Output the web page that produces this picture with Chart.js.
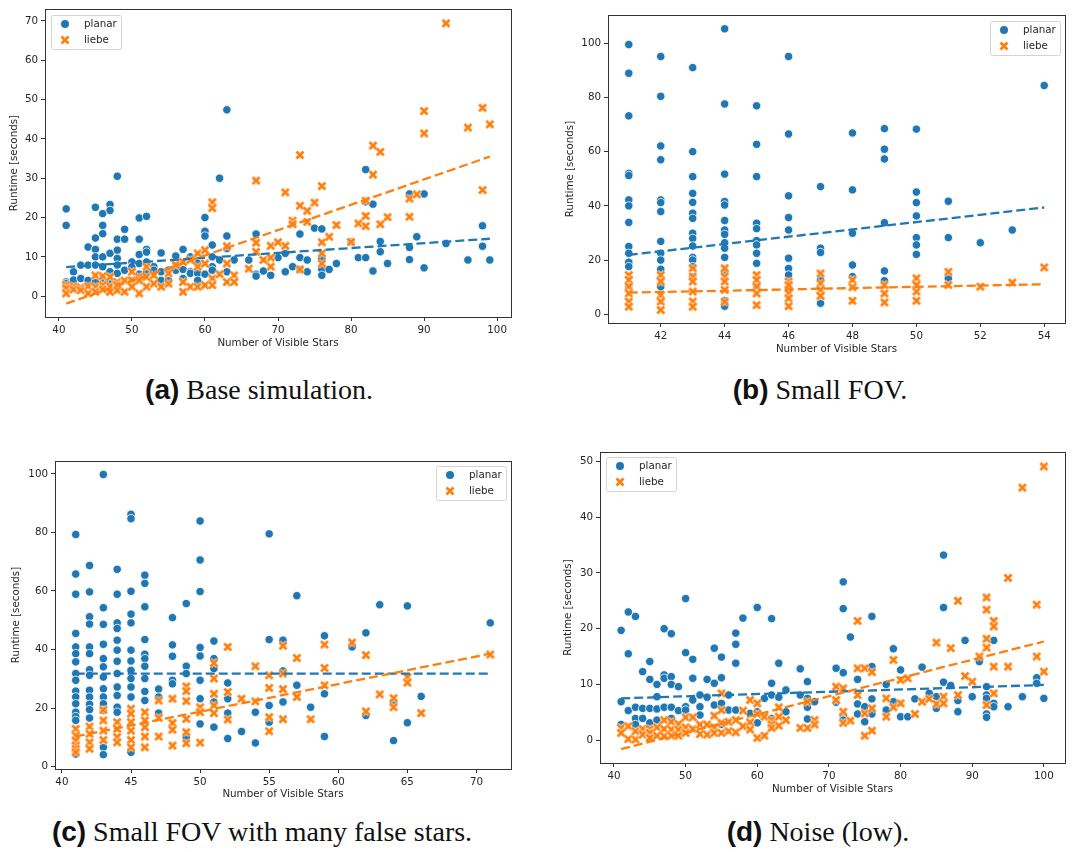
<!DOCTYPE html>
<html>
<head>
<meta charset="utf-8">
<script src="https://cdn.jsdelivr.net/npm/chart.js@4.4.1/dist/chart.umd.min.js"></script>
<style>
    body { margin: 0; background: #fff; width: 1072px; height: 852px; position: relative; overflow: hidden; }
    canvas { position: absolute; }
    .cap { position: absolute; font-family: 'Liberation Serif'; font-size: 28px; color: #111; white-space: nowrap; transform: translate(-50%, -50%); }
    .cap b { font-family: 'Liberation Sans'; }
</style>
</head>
<body>
<canvas id="ca" width="520" height="354" style="left:0;top:0"></canvas>
<canvas id="cb" width="516" height="360" style="left:556px;top:0"></canvas>
<canvas id="cc" width="520" height="365" style="left:0;top:440px"></canvas>
<canvas id="cd" width="518" height="360" style="left:554px;top:440px"></canvas>

<div class="cap" style="left:259px;top:390px"><b>(a)</b> Base simulation.</div>
<div class="cap" style="left:820px;top:390px"><b>(b)</b> Small FOV.</div>
<div class="cap" style="left:262px;top:832px"><b>(c)</b> Small FOV with many false stars.</div>
<div class="cap" style="left:818px;top:832px"><b>(d)</b> Noise (low).</div>

<script>
const seriesNames = ['planar', 'liebe'];
const xTitle = 'Number of Visible Stars';
const yTitle = 'Runtime [seconds]';

// each row: [x, y1, y2, ...]
// (a) base simulation
const aPlanar = [
    [41, 22.2, 18.0, 3.6, 3.2], [42, 6.2, 4.1], [43, 7.9, 4.5], [44, 12.5, 7.9, 4.0],
    [45, 22.6, 14.8, 11.9, 10.0, 7.9, 3.6], [46, 21.0, 18.0, 15.9, 10.0, 7.5, 4.5],
    [47, 23.3, 21.8, 10.9, 6.2, 3.6], [48, 30.5, 14.5, 11.7, 9.6, 7.9, 5.8], [49, 17.0, 14.5, 6.6],
    [50, 8.7, 7.5, 4.0], [51, 19.9, 14.5, 10.6, 8.3, 5.6], [52, 20.3, 11.9, 11.2, 8.7, 5.9],
    [53, 7.5, 6.6], [54, 11.0, 6.2, 4.0], [55, 6.6, 4.0], [56, 10.2, 6.6], [57, 11.9, 6.8, 4.5],
    [58, 10.0, 6.2, 5.8], [59, 8.3, 5.8, 4.0], [60, 20.0, 16.5, 15.3, 5.6], [61, 13.0, 10.0, 7.5, 6.6],
    [62, 30.0, 9.2], [63, 47.4, 15.3, 12.1, 6.2], [64, 9.2], [66, 9.2], [67, 15.8, 5.6, 5.1],
    [68, 6.4], [69, 5.3], [70, 9.8], [71, 10.9, 6.2], [72, 7.5], [73, 15.8, 9.8, 6.8], [74, 9.2, 6.2],
    [75, 17.3], [76, 17.1, 9.6, 6.8, 5.3], [77, 6.8], [78, 8.3], [80, 13.8], [81, 9.8],
    [82, 32.2, 24.0, 9.8], [83, 23.4, 6.4], [84, 13.9, 11.3], [85, 8.3], [88, 26.0, 12.4, 9.3],
    [89, 15.1], [90, 26.0, 7.2], [93, 13.4], [96, 9.2], [98, 17.9, 12.7], [99, 9.2]
];
const aLiebe = [
    [41, 2.8, 2.0, 0.7], [42, 2.5, 1.7], [43, 2.2, 1.5], [44, 2.5, 0.7], [45, 5.3, 2.4, 1.1],
    [46, 5.1, 2.8, 1.7], [47, 4.9, 2.5, 1.1], [48, 3.6, 2.8, 1.5], [49, 4.0, 1.1], [50, 6.2, 4.0, 2.4],
    [51, 4.9, 4.0, 0.7], [52, 7.5, 4.9, 2.4], [53, 5.3, 3.2], [54, 2.4], [55, 5.8, 3.2], [56, 8.3, 7.9],
    [57, 8.7, 3.6, 1.1], [58, 9.2, 2.4], [59, 10.9, 7.5, 2.4], [60, 11.7, 8.3, 2.8],
    [61, 23.9, 22.4, 4.5, 2.8], [62, 5.6], [63, 12.7, 8.3, 3.6], [64, 5.3, 3.6], [66, 7.0],
    [67, 29.4, 13.6, 11.3], [68, 9.2], [69, 12.8, 9.8, 7.5], [70, 13.7], [71, 26.4, 12.8],
    [72, 19.2, 18.3], [73, 35.9, 23.0, 6.8], [74, 21.7, 18.9], [75, 23.8], [76, 28.0, 13.7, 10.9, 8.3],
    [77, 15.1], [78, 18.1], [80, 13.8], [81, 18.5], [82, 24.3, 20.4, 17.8], [83, 38.3, 30.9],
    [84, 36.7, 18.3], [85, 20.1], [88, 24.8, 20.2], [89, 25.9], [90, 47.1, 41.4], [93, 69.4],
    [96, 42.9], [98, 47.9, 27.0], [99, 43.7]
];
const aPlanarFit = [[41, 7.4], [99, 14.6]];
const aLiebeFit = [[41, -1.9], [99, 35.5]];
const aXTicks = [40, 50, 60, 70, 80, 90, 100];
const aYTicks = [0, 10, 20, 30, 40, 50, 60, 70];

// (b) small FOV
const bPlanar = [
    [41, 99.5, 88.9, 73.2, 52.0, 51.2, 42.2, 40.0, 33.9, 25.0, 22.5, 19.2, 17.6, 10.2],
    [42, 95.1, 80.4, 62.1, 57.0, 42.2, 41.2, 37.9, 26.9, 22.5, 20.0, 16.6, 13.3, 10.2],
    [43, 91.0, 60.0, 50.8, 44.6, 41.3, 37.3, 35.4, 29.9, 28.0, 25.2, 21.0, 20.0, 17.6, 13.9],
    [44, 105.3, 77.6, 51.7, 41.6, 40.3, 34.6, 31.1, 29.5, 26.4, 24.4, 21.0, 15.7, 5.0, 3.0],
    [45, 76.9, 62.7, 50.8, 33.6, 31.6, 27.2, 25.6, 22.5, 18.8, 10.5],
    [46, 95.1, 66.5, 43.7, 35.7, 31.1, 20.7, 16.9, 14.5],
    [47, 47.1, 24.4, 22.8, 12.7, 4.1],
    [48, 66.9, 45.9, 29.9, 18.2, 13.9],
    [49, 68.5, 60.9, 57.3, 33.8, 16.0, 12.4],
    [50, 68.3, 45.1, 41.2, 36.3, 28.3, 25.6, 22.1],
    [51, 41.7, 28.3, 13.3], [52, 26.4], [53, 31.1], [54, 84.4]
];
const bLiebe = [
    [41, 14.5, 12.7, 10.2, 7.7, 4.7, 2.8], [42, 14.5, 12.1, 7.1, 4.7, 1.6],
    [43, 17.0, 13.9, 12.1, 8.4, 4.7, 2.8], [44, 17.0, 13.9, 12.1, 9.0, 4.7],
    [45, 14.5, 12.7, 10.2, 7.7, 3.4], [46, 12.1, 10.8, 7.7, 5.9, 3.0],
    [47, 15.1, 11.4, 9.0, 6.8], [48, 12.7, 10.0, 5.0], [49, 10.8, 7.7, 4.4],
    [50, 13.3, 10.8, 8.4, 5.0], [51, 15.7, 10.8], [52, 10.2], [53, 11.7], [54, 17.3]
];
const bPlanarFit = [[41, 21.9], [54, 39.4]];
const bLiebeFit = [[41, 8.0], [54, 11.1]];
const bXTicks = [42, 44, 46, 48, 50, 52, 54];
const bYTicks = [0, 20, 40, 60, 80, 100];

// (c) small FOV with many false stars
const cPlanar = [
    [41, 79.3, 65.8, 58.9, 45.5, 40.9, 38.6, 35.8, 31.8, 29.5, 25.8, 23.8, 21.5, 18.6, 17.1, 15.8, 4.3],
    [42, 68.7, 59.7, 51.2, 48.7, 40.9, 38.6, 33.1, 31.2, 26.1, 23.8, 21.3, 19.5, 16.6],
    [43, 99.8, 54.3, 48.6, 41.8, 36.9, 34.1, 30.6, 26.6, 23.8, 21.5, 19.2, 6.6, 4.1],
    [44, 67.4, 58.9, 49.1, 47.2, 43.2, 39.8, 36.0, 31.8, 27.2, 24.3, 20.3, 18.6],
    [45, 86.2, 84.7, 59.9, 52.1, 49.1, 39.8, 36.1, 32.9, 30.1, 27.2, 23.8, 4.9],
    [46, 65.4, 62.6, 54.6, 43.4, 38.4, 36.9, 34.3, 30.1, 25.7, 22.6],
    [47, 26.5, 23.8, 18.3], [48, 50.9, 41.6, 37.7, 29.5, 28.3], [49, 55.7, 34.3, 31.8, 10.1],
    [50, 83.9, 70.6, 59.8, 40.7, 37.8, 29.5, 23.2, 14.6], [51, 42.9, 36.9, 33.5, 22.1, 13.5],
    [52, 28.6, 23.2, 18.3, 9.6], [53, 12.0], [54, 18.6, 8.1], [55, 79.5, 43.4, 20.9, 15.2],
    [56, 43.2, 32.7, 22.1], [57, 58.4, 27.8], [58, 20.3], [59, 44.7, 24.9, 10.3], [61, 40.9],
    [62, 45.7, 17.5], [63, 55.3], [64, 22.1, 8.9], [65, 54.9, 15.0], [66, 24.0], [71, 49.1]
];
const cLiebe = [
    [41, 12.9, 10.6, 8.9, 7.2, 6.1, 4.9], [42, 13.7, 11.2, 8.3, 6.1], [43, 19.4, 15.8, 12.3, 9.1],
    [44, 15.2, 12.9, 10.1, 8.3], [45, 19.8, 18.1, 15.2, 12.3, 9.1, 6.6], [46, 18.6, 15.8, 13.5, 10.3, 6.6],
    [47, 22.6, 16.7, 10.3], [48, 23.2, 14.9, 12.6, 7.2], [49, 27.4, 25.8, 22.4, 16.3, 11.8, 8.0],
    [50, 20.3, 18.6, 8.2], [51, 35.4, 30.1, 24.9, 20.9, 18.3], [52, 40.9, 25.5, 16.1], [53, 23.2],
    [54, 34.3, 22.3], [55, 31.2, 26.9, 16.9, 12.1], [56, 41.3, 31.8, 26.5, 16.2], [57, 37.1, 23.8],
    [58, 16.2], [59, 41.7, 33.7, 27.8], [61, 42.4], [62, 38.1, 18.9], [63, 24.7], [64, 23.4, 20.3],
    [65, 30.6, 28.7], [66, 18.3], [71, 38.3]
];
const cPlanarFit = [[41, 31.8], [71, 31.8]];
const cLiebeFit = [[41, 10.3], [71, 38.6]];
const cXTicks = [40, 45, 50, 55, 60, 65, 70];
const cYTicks = [0, 20, 40, 60, 80, 100];

// (d) noise (low)
const dPlanar = [
    [41, 19.7, 6.9, 2.8], [42, 23.0, 15.5, 5.3], [43, 22.2, 5.9, 3.9, 2.8], [44, 12.3, 5.7, 3.9],
    [45, 14.1, 10.9, 5.7, 3.1], [46, 10.0, 7.8, 5.6, 3.6], [47, 20.0, 11.7, 11.1, 5.9],
    [48, 19.1, 11.4, 10.0, 5.9, 3.9], [49, 9.6, 5.3], [50, 25.4, 15.7, 6.0, 5.4], [51, 14.5, 11.1, 7.2],
    [52, 8.1, 6.0, 4.5], [53, 10.9, 7.7], [54, 16.5, 10.2, 6.3], [55, 14.9, 11.2, 6.6, 2.8],
    [56, 8.1, 5.4], [57, 19.2, 17.2, 13.8, 5.4], [58, 21.9], [59, 4.8], [60, 23.8, 5.1, 3.1],
    [61, 7.5], [62, 21.8, 10.2, 8.1, 3.9], [63, 13.8, 7.7], [64, 9.0, 5.1], [66, 12.8, 8.1],
    [67, 10.5, 7.5, 5.9, 3.8], [68, 6.9], [71, 12.9, 6.8], [72, 28.4, 23.6, 12.1, 4.4, 3.6],
    [73, 18.5], [74, 10.9, 6.5, 4.7], [75, 6.0, 3.3], [76, 22.2, 13.2, 7.4, 4.7], [78, 10.0, 5.4],
    [79, 16.4, 6.9], [80, 12.6, 4.2], [81, 4.2], [82, 7.4], [83, 13.1], [84, 8.4], [85, 7.8, 5.7],
    [86, 33.2, 23.8, 10.4], [87, 9.8], [88, 7.1, 5.1], [89, 17.9], [90, 7.8], [91, 14.1],
    [92, 9.6, 8.1, 7.5, 4.7, 4.1], [93, 17.9, 6.6, 6.0], [95, 6.0], [97, 7.8], [99, 11.2, 10.2], [100, 7.5]
];
const dLiebe = [
    [41, 2.2, 1.3], [42, 2.5, 0.2], [43, 1.6, 0.1], [44, 2.0, 1.0], [45, 2.0, 1.3, 0.4], [46, 2.3, 0.8],
    [47, 3.6, 2.0, 0.7], [48, 3.3, 1.9, 0.8], [49, 2.9, 1.9, 0.8], [50, 4.1, 2.3, 1.3], [51, 4.1, 2.0],
    [52, 2.8, 1.1], [53, 2.8, 1.0], [54, 4.4, 2.3, 1.3], [55, 8.4, 5.4, 3.1, 1.3], [56, 3.3, 1.6],
    [57, 3.6, 1.4], [58, 5.3, 2.5], [59, 7.2, 3.2, 1.9], [60, 6.6, 4.7, 0.4], [61, 4.2, 0.8],
    [62, 3.6, 2.8, 2.2], [63, 5.9, 4.2, 2.6], [64, 3.6], [66, 2.2], [67, 6.9, 2.2], [68, 3.6, 2.8],
    [71, 9.6, 7.2], [72, 9.3, 5.1, 3.1], [73, 3.5], [74, 21.4, 12.9, 8.1], [75, 12.9, 4.8, 0.8],
    [76, 12.2, 5.7, 1.7], [78, 7.5, 4.2], [79, 14.4, 5.9], [80, 10.8, 6.6], [81, 11.1], [82, 4.7],
    [83, 6.9], [84, 7.4], [85, 17.5, 6.5], [86, 7.8, 6.6], [87, 16.5], [88, 25.0, 8.1], [89, 11.5],
    [90, 10.5], [91, 15.0], [92, 25.6, 23.4, 18.2, 16.6, 6.3], [93, 21.4, 20.4, 13.2, 8.4],
    [95, 29.1, 13.2], [97, 45.3], [99, 24.3, 15.0], [100, 49.1, 12.3]
];
const dPlanarFit = [[41, 7.5], [100, 9.9]];
const dLiebeFit = [[41, -1.6], [100, 17.7]];
const dXTicks = [40, 50, 60, 70, 80, 90, 100];
const dYTicks = [0, 10, 20, 30, 40, 50];

const BLUE = '#1f77b4';
const ORANGE = '#ff7f0e';
const INK = '#262626';
const FONT = '"DejaVu Sans"';

// filled "X" marker like seaborn's
const xMark = document.createElement('canvas');
xMark.width = 12; xMark.height = 12;
(() => {
    const g = xMark.getContext('2d');
    const draw = (w, c) => {
        g.strokeStyle = c; g.lineWidth = w; g.lineCap = 'butt';
        g.beginPath();
        g.moveTo(2.5, 2.5); g.lineTo(9.5, 9.5);
        g.moveTo(2.5, 9.5); g.lineTo(9.5, 2.5);
        g.stroke();
    };
    draw(4.2, 'rgba(255,255,255,0.9)');
    draw(2.8, ORANGE);
})();

const flat = rows => rows.flatMap(r => r.slice(1).map(y => ({ x: r[0], y })));
const pts = pairs => pairs.map(p => ({ x: p[0], y: p[1] }));

const framePlugin = {
    id: 'frame',
    afterDatasetsDraw(chart) {
        const { ctx, chartArea: a } = chart;
        ctx.save();
        ctx.strokeStyle = '#333';
        ctx.lineWidth = 1;
        ctx.strokeRect(Math.round(a.left) + 0.5, Math.round(a.top) + 0.5,
            Math.round(a.right - a.left), Math.round(a.bottom - a.top));
        ctx.restore();
    }
};

const boxLegend = {
    id: 'boxLegend',
    afterDraw(chart, args, opts) {
        const { ctx, chartArea: a } = chart;
        const w = 70, h = 34;
        const x = Math.round(opts.side === 'left' ? a.left + opts.dx : a.right - opts.dx - w);
        const y = Math.round(a.top + opts.dy);
        ctx.save();
        ctx.fillStyle = 'rgba(255,255,255,0.85)';
        ctx.strokeStyle = '#d4d4d4';
        ctx.lineWidth = 1;
        ctx.beginPath();
        ctx.roundRect(x + 0.5, y + 0.5, w, h, 2);
        ctx.fill();
        ctx.stroke();
        ctx.fillStyle = BLUE;
        ctx.beginPath();
        ctx.arc(x + 14, y + 9, 4, 0, Math.PI * 2);
        ctx.fill();
        ctx.drawImage(xMark, x + 14 - 6, y + 25 - 6);
        ctx.fillStyle = INK;
        ctx.font = '10.3px ' + FONT;
        ctx.textBaseline = 'middle';
        ctx.fillText(seriesNames[0], x + 33, y + 9);
        ctx.fillText(seriesNames[1], x + 33, y + 25);
        ctx.restore();
    }
};

function makeChart(id, cfg) {
    const axisFont = { family: FONT, size: 10.3 };
    const grid = { drawOnChartArea: false, drawTicks: true, tickLength: 4, color: '#333' };
    new Chart(document.getElementById(id), {
        type: 'scatter',
        data: {
            datasets: [
                { type: 'line', data: pts(cfg.liebeFit), borderColor: ORANGE, borderWidth: 2.3, borderDash: [9, 4], pointRadius: 0, fill: false },
                { type: 'line', data: pts(cfg.planarFit), borderColor: BLUE, borderWidth: 2.3, borderDash: [9, 4], pointRadius: 0, fill: false },
                { label: seriesNames[1], data: flat(cfg.liebe), pointStyle: xMark, pointRadius: 6 },
                { label: seriesNames[0], data: flat(cfg.planar), backgroundColor: BLUE, borderColor: '#fff', borderWidth: 0.8, pointRadius: 4.2 }
            ]
        },
        options: {
            responsive: false,
            animation: false,
            layout: { padding: cfg.pad },
            plugins: {
                legend: { display: false },
                tooltip: { enabled: false },
                boxLegend: cfg.legend
            },
            scales: {
                x: {
                    type: 'linear', min: cfg.xRange[0], max: cfg.xRange[1],
                    afterBuildTicks: s => { s.ticks = cfg.xTicks.map(v => ({ value: v })); },
                    afterFit: s => { s.height = cfg.xH; },
                    grid, border: { display: false },
                    ticks: { color: INK, font: axisFont, padding: 3 },
                    title: { display: true, text: xTitle, color: INK, font: axisFont }
                },
                y: {
                    type: 'linear', min: cfg.yRange[0], max: cfg.yRange[1],
                    afterBuildTicks: s => { s.ticks = cfg.yTicks.map(v => ({ value: v })); },
                    afterFit: s => { s.width = cfg.yW; },
                    grid, border: { display: false },
                    ticks: { color: INK, font: axisFont, padding: 3 },
                    title: { display: true, text: yTitle, color: INK, font: axisFont }
                }
            }
        },
        plugins: [framePlugin, boxLegend]
    });
}

makeChart('ca', {
    planar: aPlanar, liebe: aLiebe, planarFit: aPlanarFit, liebeFit: aLiebeFit,
    xTicks: aXTicks, yTicks: aYTicks, xRange: [38.1, 101.9], yRange: [-5.3, 73.0],
    pad: { left: 4, top: 9, right: 9, bottom: 0 }, yW: 41, xH: 37,
    legend: { side: 'left', dx: 6, dy: 6 }
});
makeChart('cb', {
    planar: bPlanar, liebe: bLiebe, planarFit: bPlanarFit, liebeFit: bLiebeFit,
    xTicks: bXTicks, yTicks: bYTicks, xRange: [40.35, 54.65], yRange: [-3.2, 110.4],
    pad: { left: 4, top: 15, right: 6, bottom: 0 }, yW: 48, xH: 37,
    legend: { side: 'right', dx: 5, dy: 6 }
});
makeChart('cc', {
    planar: cPlanar, liebe: cLiebe, planarFit: cPlanarFit, liebeFit: cLiebeFit,
    xTicks: cXTicks, yTicks: cYTicks, xRange: [39.5, 72.5], yRange: [-0.8, 104.4],
    pad: { left: 6, top: 21, right: 9, bottom: 0 }, yW: 49, xH: 36,
    legend: { side: 'right', dx: 5, dy: 5 }
});
makeChart('cd', {
    planar: dPlanar, liebe: dLiebe, planarFit: dPlanarFit, liebeFit: dLiebeFit,
    xTicks: dXTicks, yTicks: dYTicks, xRange: [38.05, 102.95], yRange: [-4.1, 51.7],
    pad: { left: 4, top: 12, right: 5, bottom: 0 }, yW: 42, xH: 37,
    legend: { side: 'left', dx: 6, dy: 5 }
});
</script>
</body>
</html>
